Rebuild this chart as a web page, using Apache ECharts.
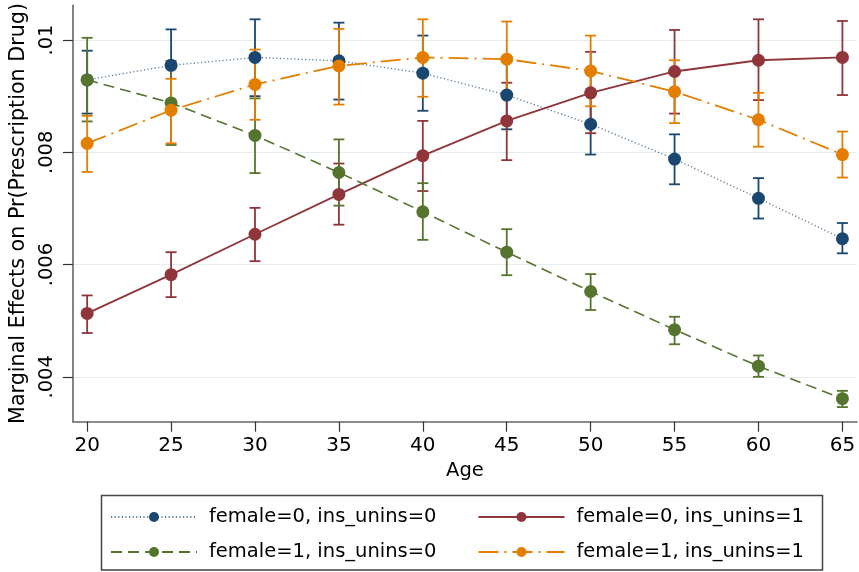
<!DOCTYPE html>
<html>
<head>
<meta charset="utf-8">
<script src="https://cdn.jsdelivr.net/npm/echarts@6/dist/echarts.min.js"></script>
<style>html,body{margin:0;padding:0;background:#fff;}#c{width:859px;height:572px;}</style>
</head>
<body>
<div id="c"></div>
<script>
// ---- data ----
var ages = [20, 25, 30, 35, 40, 45, 50, 55, 60, 65];
var seriesNames = ['female=0, ins_unins=0', 'female=0, ins_unins=1', 'female=1, ins_unins=0', 'female=1, ins_unins=1'];

var f0i0 = [0.00929, 0.00955, 0.00969, 0.00963, 0.00941, 0.00902, 0.00850, 0.00788, 0.00718, 0.00646];
var f0i0Lo = [0.00869, 0.00891, 0.00900, 0.00894, 0.00874, 0.00841, 0.00796, 0.00743, 0.00682, 0.00620];
var f0i0Hi = [0.00981, 0.01019, 0.01037, 0.01031, 0.01008, 0.00963, 0.00903, 0.00832, 0.00754, 0.00674];

var f0i1 = [0.00513, 0.00582, 0.00654, 0.00725, 0.00794, 0.00856, 0.00906, 0.00944, 0.00964, 0.00969];
var f0i1Lo = [0.00478, 0.00542, 0.00606, 0.00671, 0.00731, 0.00786, 0.00834, 0.00869, 0.00893, 0.00902];
var f0i1Hi = [0.00545, 0.00622, 0.00701, 0.00780, 0.00856, 0.00924, 0.00979, 0.01018, 0.01037, 0.01034];

var f1i0 = [0.00929, 0.00888, 0.00830, 0.00764, 0.00694, 0.00622, 0.00552, 0.00484, 0.00419, 0.00361];
var f1i0Lo = [0.00855, 0.00813, 0.00763, 0.00705, 0.00644, 0.00581, 0.00519, 0.00458, 0.00400, 0.00346];
var f1i0Hi = [0.01004, 0.00963, 0.00896, 0.00823, 0.00745, 0.00663, 0.00583, 0.00507, 0.00438, 0.00375];

var f1i1 = [0.00816, 0.00875, 0.00921, 0.00954, 0.00969, 0.00966, 0.00945, 0.00908, 0.00858, 0.00796];
var f1i1Lo = [0.00765, 0.00816, 0.00858, 0.00885, 0.00899, 0.00899, 0.00882, 0.00852, 0.00810, 0.00755];
var f1i1Hi = [0.00865, 0.00931, 0.00983, 0.01020, 0.01037, 0.01033, 0.01008, 0.00964, 0.00906, 0.00837];

var xTicks = [20, 25, 30, 35, 40, 45, 50, 55, 60, 65];
var yTicks = [0.004, 0.006, 0.008, 0.01];
var yTickLabels = ['.004', '.006', '.008', '.01'];

// ---- build ----
var FONT = 'DejaVu Sans';
var colors = ['#1a476f', '#90353b', '#55752f', '#e37e00'];
var means = [f0i0, f0i1, f1i0, f1i1];
var lows = [f0i0Lo, f0i1Lo, f1i0Lo, f1i1Lo];
var highs = [f0i0Hi, f0i1Hi, f1i0Hi, f1i1Hi];
var lineStyles = [
  {width: 1.4, type: [1.2, 2.4], opacity: 0.7},
  {width: 1.8, type: 'solid'},
  {width: 1.6, type: [11, 6]},
  {width: 1.8, type: [20, 6, 2, 6]}
];

function pairs(a) { return ages.map(function (x, i) { return [x, a[i]]; }); }
function ciData(lo, hi) { return ages.map(function (x, i) { return [x, lo[i], hi[i]]; }); }

var series = [];
for (var k = 0; k < 4; k++) {
  (function (k) {
    series.push({
      type: 'custom',
      name: seriesNames[k] + ' CI',
      data: ciData(lows[k], highs[k]),
      encode: {x: 0, y: [1, 2]},
      z: 2,
      silent: true,
      renderItem: function (params, api) {
        var x = api.value(0);
        var pLo = api.coord([x, api.value(1)]);
        var pHi = api.coord([x, api.value(2)]);
        var hw = 5.5;
        var st = {stroke: colors[k], lineWidth: 1.8};
        return {
          type: 'group',
          children: [
            {type: 'line', shape: {x1: pLo[0], y1: pLo[1], x2: pHi[0], y2: pHi[1]}, style: st},
            {type: 'line', shape: {x1: pLo[0] - hw, y1: pLo[1], x2: pLo[0] + hw, y2: pLo[1]}, style: st},
            {type: 'line', shape: {x1: pHi[0] - hw, y1: pHi[1], x2: pHi[0] + hw, y2: pHi[1]}, style: st}
          ]
        };
      }
    });
  })(k);
}
for (var k = 0; k < 4; k++) {
  series.push({
    type: 'line',
    name: seriesNames[k],
    data: pairs(means[k]),
    z: 3 + k,
    symbol: 'circle',
    symbolSize: 13,
    showSymbol: true,
    silent: true,
    itemStyle: {color: colors[k]},
    lineStyle: Object.assign({color: colors[k]}, lineStyles[k])
  });
}

var legendCommon = {
  orient: 'horizontal',
  itemWidth: 86,
  itemHeight: 12.5,
  itemGap: 41,
  padding: 0,
  selectedMode: false,
  textStyle: {fontFamily: FONT, fontSize: 19.5, color: '#000', width: 230, padding: [0, 0, 0, 7]}
};

var chart = echarts.init(document.getElementById('c'), null, {renderer: 'canvas'});
chart.setOption({
  animation: false,
  backgroundColor: '#fff',
  color: colors,
  grid: {left: 68, right: 2, top: 5, height: 416.7, containLabel: false},
  xAxis: {
    type: 'value',
    min: 19.15,
    max: 65.87,
    name: 'Age',
    nameLocation: 'middle',
    nameGap: 36,
    nameTextStyle: {fontFamily: FONT, fontSize: 19.5, color: '#000'},
    axisLine: {show: true, lineStyle: {color: '#666', width: 1.6}},
    axisTick: {show: true, length: 10, customValues: xTicks, lineStyle: {color: '#333', width: 1.2}},
    axisLabel: {customValues: xTicks, margin: 14, fontFamily: FONT, fontSize: 20, color: '#000'},
    splitLine: {show: false}
  },
  yAxis: {
    type: 'value',
    min: 0.0032,
    max: 0.01062,
    name: 'Marginal Effects on Pr(Prescription Drug)',
    nameLocation: 'middle',
    nameGap: 41,
    nameRotate: 90,
    nameTextStyle: {fontFamily: FONT, fontSize: 20.7, color: '#000'},
    axisLine: {show: true, lineStyle: {color: '#666', width: 1.6}},
    axisTick: {show: true, length: 10, customValues: yTicks, lineStyle: {color: '#333', width: 1.2}},
    axisLabel: {
      customValues: yTicks,
      rotate: 90,
      margin: 16,
      fontFamily: FONT,
      fontSize: 19.5,
      color: '#000',
      formatter: function (v) {
        for (var i = 0; i < yTicks.length; i++) { if (Math.abs(v - yTicks[i]) < 1e-9) return yTickLabels[i]; }
        return '';
      }
    },
    splitLine: {show: true, lineStyle: {color: '#e3ecef', width: 1.2}}
  },
  legend: [
    Object.assign({}, legendCommon, {left: 110, top: 507, data: [seriesNames[0], seriesNames[1]]}),
    Object.assign({}, legendCommon, {left: 110, top: 542, data: [seriesNames[2], seriesNames[3]]})
  ],
  graphic: [{
    type: 'rect',
    shape: {x: 101.5, y: 495.5, width: 721, height: 74.5},
    style: {fill: 'none', stroke: '#444', lineWidth: 1.5},
    silent: true
  }],
  series: series
});
</script>
</body>
</html>
